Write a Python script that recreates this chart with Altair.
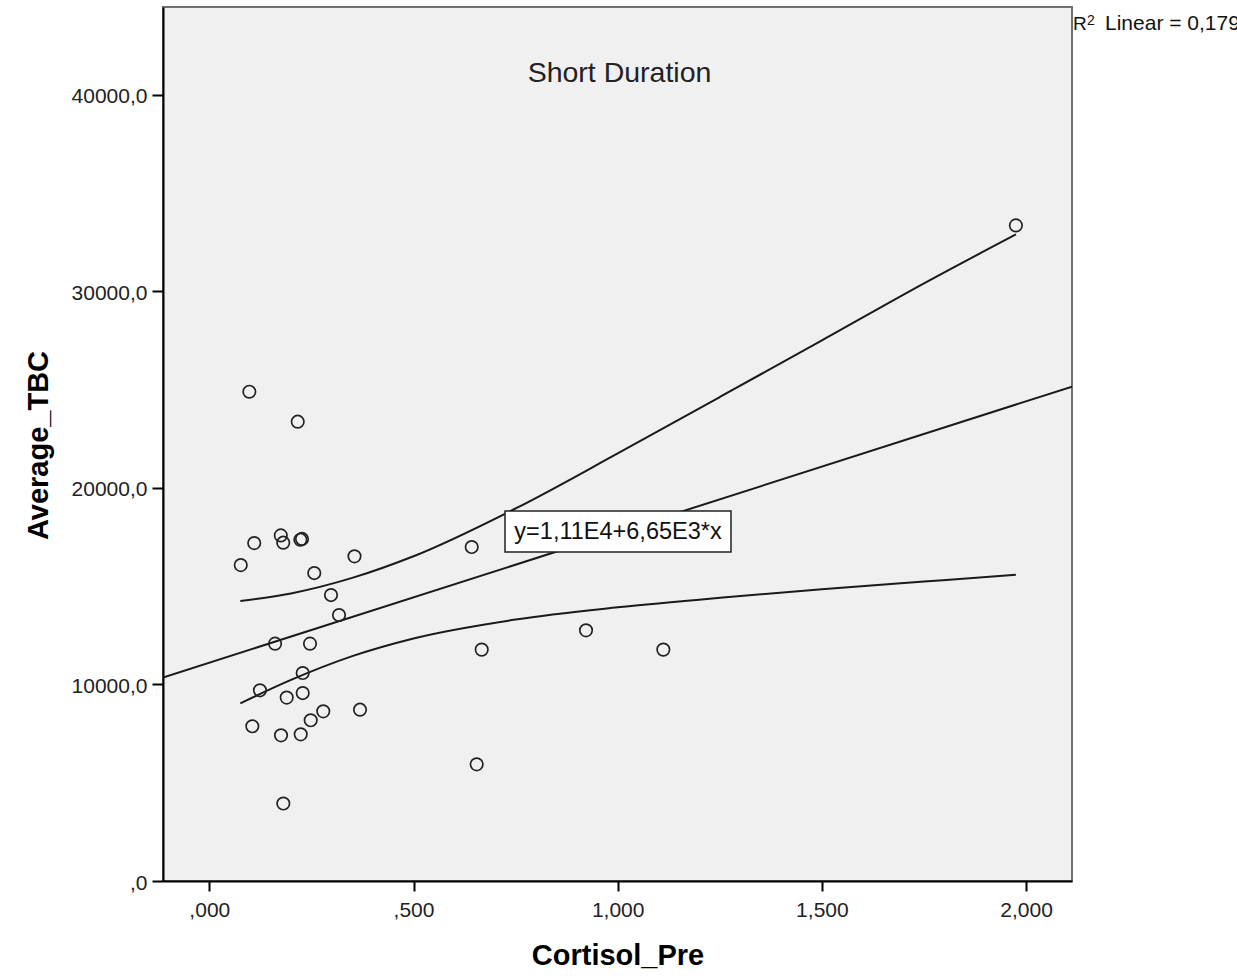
import altair as alt
import pandas as pd

# ---- data ----
CORTISOL_PRE = [0.098, 0.2165, 0.110, 0.077, 0.175, 0.181, 0.223, 0.227, 0.257, 0.3555,
                0.298, 0.3176, 0.161, 0.2466, 0.2287, 0.124, 0.1895, 0.2287, 0.279, 0.2483,
                0.369, 0.1053, 0.1756, 0.2238, 0.1812, 0.6425, 0.667, 0.9224, 1.1117, 0.6547,
                1.975]
AVERAGE_TBC = [24890, 23365, 17190, 16070, 17580, 17210, 17360, 17400, 15665, 16515,
               14545, 13530, 12075, 12075, 10580, 9700, 9330, 9560, 8630, 8175,
               8715, 7870, 7410, 7460, 3940, 16990, 11770, 12750, 11770, 5935,
               33350]

FIT_X = [-0.1134, 2.1124]
FIT_Y = [10350, 25150]

CI_X = [0.076, 0.2, 0.35, 0.5, 0.75, 1.0, 1.25, 1.5, 1.75, 1.975]
CI_UPPER = [14240, 14630, 15420, 16520, 18950, 21750, 24620, 27500, 30400, 32890]
CI_LOWER = [9040, 10230, 11440, 12340, 13300, 13920, 14410, 14840, 15230, 15580]

X_TICKS = [0, 0.5, 1.0, 1.5, 2.0]
X_TICK_LABELS = [",000", ",500", "1,000", "1,500", "2,000"]
Y_TICKS = [0, 10000, 20000, 30000, 40000]
Y_TICK_LABELS = [",0", "10000,0", "20000,0", "30000,0", "40000,0"]

X_TITLE = "Cortisol_Pre"
Y_TITLE = "Average_TBC"
PANEL_TITLE = "Short Duration"
EQUATION = "y=1,11E4+6,65E3*x"
R2_BASE = "R"
R2_SUP = "2"
R2_REST = "Linear = 0,179"

# ---- tables ----
pts = pd.DataFrame({"x": CORTISOL_PRE, "y": AVERAGE_TBC})
fit = pd.DataFrame({"x": FIT_X, "y": FIT_Y})
ci = pd.concat([
    pd.DataFrame({"x": CI_X, "y": CI_UPPER, "band": "upper"}),
    pd.DataFrame({"x": CI_X, "y": CI_LOWER, "band": "lower"}),
])
one = pd.DataFrame({"t": [0]})


def label_expr(ticks, labels):
    expr = "''"
    for t, l in reversed(list(zip(ticks, labels))):
        expr = f"(abs(datum.value - {t}) < 1e-6 ? '{l}' : {expr})"
    return expr


FONT = "Liberation Sans"
W, H = 909, 874

xscale = alt.Scale(domain=[-0.1134, 2.1124], nice=False, zero=False)
yscale = alt.Scale(domain=[0, 44460], nice=False, zero=False)

xaxis = alt.Axis(values=X_TICKS, labelExpr=label_expr(X_TICKS, X_TICK_LABELS),
                 title=X_TITLE, grid=False, domainColor="black", domainWidth=2,
                 tickColor="black", tickWidth=2, tickSize=10,
                 labelFont=FONT, labelFontSize=21, labelColor="#222", labelPadding=8,
                 labelFlush=False, labelOverlap=False,
                 titleFont=FONT, titleFontSize=29, titleFontWeight="bold", titleColor="black",
                 titleX=W / 2, titleY=74, titleAlign="center", titleBaseline="middle")
yaxis = alt.Axis(values=Y_TICKS, labelExpr=label_expr(Y_TICKS, Y_TICK_LABELS),
                 title=Y_TITLE, grid=False, domainColor="black", domainWidth=2,
                 tickColor="black", tickWidth=2, tickSize=11,
                 labelFont=FONT, labelFontSize=21, labelColor="#222", labelPadding=5,
                 labelOffset=2, labelFlush=False, labelOverlap=False,
                 titleFont=FONT, titleFontSize=29, titleFontWeight="bold", titleColor="black",
                 titleX=-125, titleY=438, titleAngle=270, titleAlign="center",
                 titleBaseline="middle")

xenc = alt.X("x:Q", scale=xscale, axis=xaxis)
yenc = alt.Y("y:Q", scale=yscale, axis=yaxis)

fit_line = alt.Chart(fit).mark_line(color="#1a1a1a", strokeWidth=2, clip=True).encode(x=xenc, y=yenc)
ci_lines = alt.Chart(ci).mark_line(color="#1a1a1a", strokeWidth=2, clip=True,
                                   interpolate="monotone").encode(x=xenc, y=yenc, detail="band:N")
points = alt.Chart(pts).mark_point(shape="circle", filled=False, size=155, stroke="#222",
                                   strokeWidth=1.7, opacity=1, clip=True).encode(x=xenc, y=yenc)

eq_box = alt.Chart(one).mark_rect(fill="white", stroke="#222", strokeWidth=1.5).encode(
    x=alt.value(342), x2=alt.value(568), y=alt.value(504), y2=alt.value(545))
eq_text = alt.Chart(one).mark_text(text=EQUATION, font=FONT, fontSize=23.5, color="#111",
                                   align="center", baseline="middle").encode(
    x=alt.value(455), y=alt.value(525))
panel_title = alt.Chart(one).mark_text(text=PANEL_TITLE, font=FONT, fontSize=28.5, color="#222",
                                       align="center", baseline="middle").encode(
    x=alt.value(456.5), y=alt.value(66))
r2_base = alt.Chart(one).mark_text(text=R2_BASE, font=FONT, fontSize=19, color="#111",
                                   align="left", baseline="alphabetic").encode(
    x=alt.value(910), y=alt.value(23))
r2_sup = alt.Chart(one).mark_text(text=R2_SUP, font=FONT, fontSize=14, color="#111",
                                  align="left", baseline="alphabetic").encode(
    x=alt.value(924), y=alt.value(18))
r2_rest = alt.Chart(one).mark_text(text=R2_REST, font=FONT, fontSize=21, color="#111",
                                   align="left", baseline="alphabetic").encode(
    x=alt.value(942), y=alt.value(23))

chart = alt.layer(fit_line, ci_lines, points, eq_box, eq_text, panel_title,
                  r2_base, r2_sup, r2_rest).properties(
    width=W, height=H,
    autosize=alt.AutoSizeParams(type="none"),
    padding={"left": 163, "top": 7, "right": 1237 - 163 - W, "bottom": 91},
    background="white",
).configure_view(fill="#F0F0F0", stroke="#707070", strokeWidth=2)

chart.save("out.html", embed_options={"renderer": "svg", "actions": False})
